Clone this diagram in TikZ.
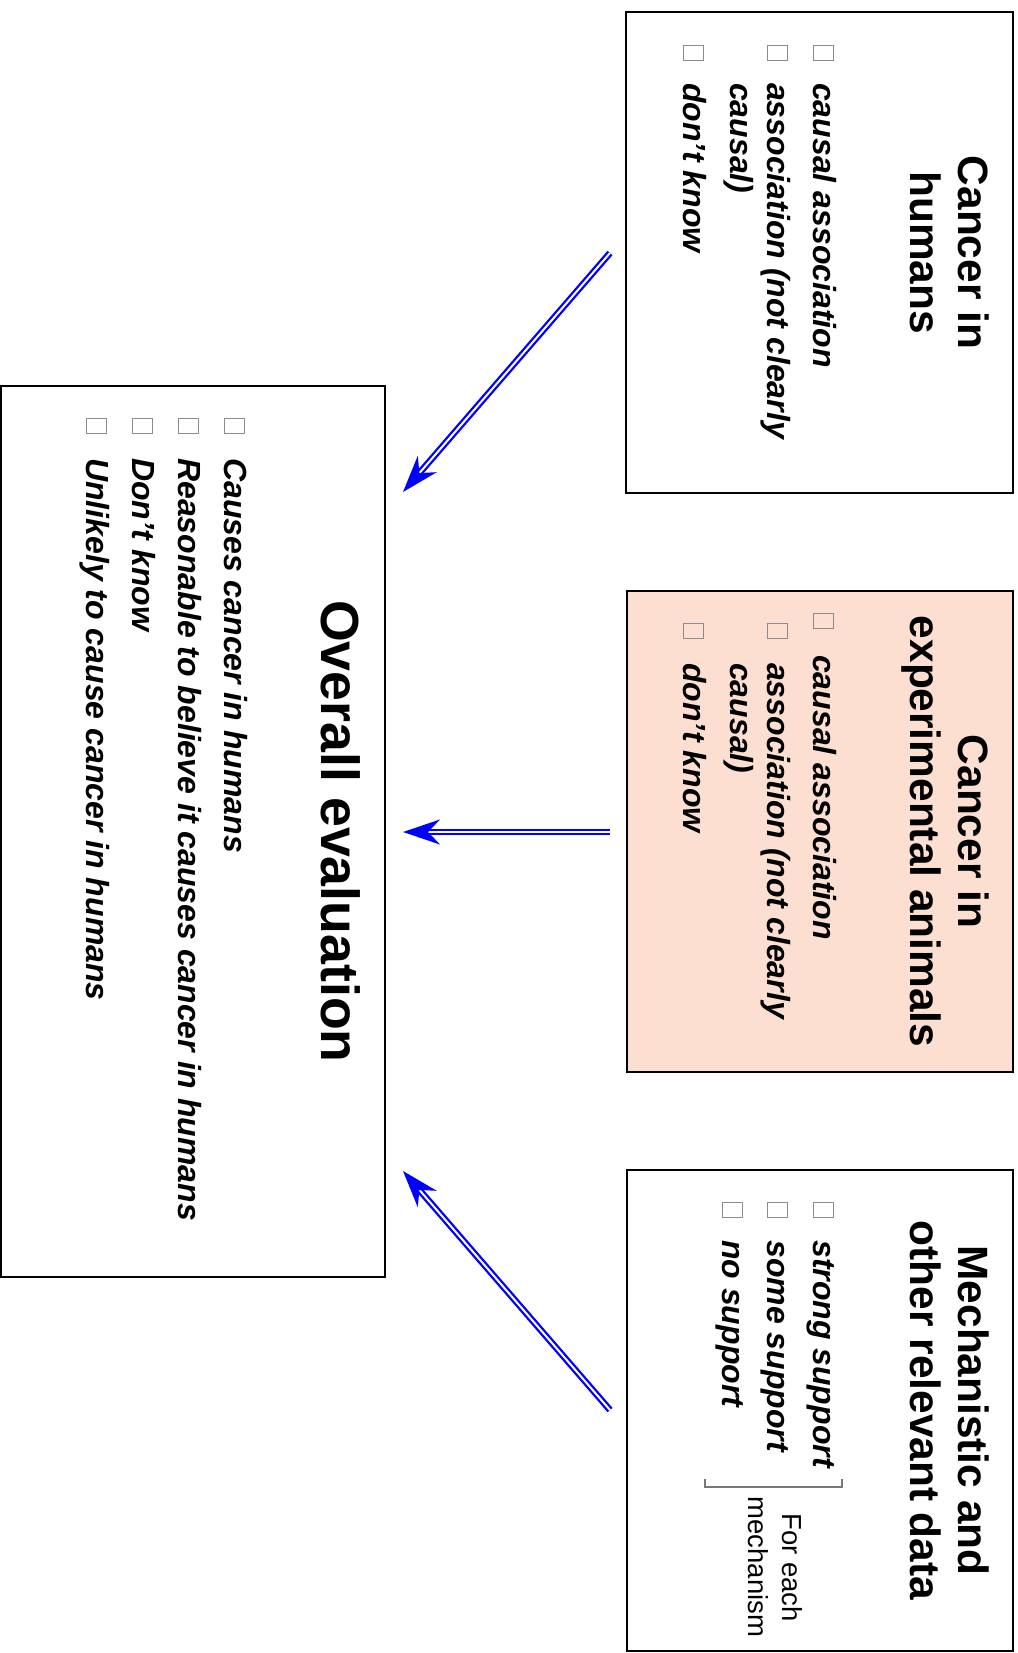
\documentclass[tikz,border=0pt]{standalone}
\usepackage{fontspec}
\setmainfont{Liberation Sans}
\usetikzlibrary{arrows.meta}
\definecolor{peach}{RGB}{252,223,208}
\definecolor{cbgray}{RGB}{140,140,140}
\definecolor{brgray}{RGB}{120,120,120}
\begin{document}
\begin{tikzpicture}[x=1pt,y=1pt,
  box/.style={draw=black, line width=2.4pt, inner sep=0pt, outer sep=0pt},
  ttl/.style={font=\fontsize{42.4}{48}\selectfont\bfseries, inner sep=0pt, anchor=base},
  bigttl/.style={font=\fontsize{53.7}{60}\selectfont\bfseries, inner sep=0pt, anchor=base},
  itm/.style={font=\fontsize{32}{37}\selectfont\bfseries\itshape, inner sep=0pt, anchor=base west},
  note/.style={font=\fontsize{27.5}{33}\selectfont, inner sep=0pt, anchor=base},
  cbox/.style={draw=cbgray, line width=1pt, minimum width=15pt, minimum height=20pt, inner sep=0pt, anchor=south west},
  conn/.style={draw=blue, line width=2.3pt, double=white, double distance=2pt,
    -{Stealth[length=37pt,width=25pt,inset=12pt]}},
  brk/.style={draw=brgray, line width=1.5pt}
]
\begin{scope}[rotate=-90, transform shape]
\useasboundingbox (0,0) rectangle (1653,1017);

% boxes
\node[box, minimum width=481pt, minimum height=387pt] (hum) at (252.5,819.5) {};
\node[box, fill=peach, minimum width=481pt, minimum height=386pt] (ani) at (831.5,820) {};
\node[box, minimum width=481pt, minimum height=386pt] (mec) at (1410.5,820) {};
\node[box, minimum width=891pt, minimum height=384pt] (ove) at (831.5,193) {};

% box 1
\node[ttl] (t1a) at (252.5,958) {Cancer in};
\node[ttl] (t1b) at (252.5,910) {humans};
\node[cbox] (c1a) at (45,813) {};
\node[itm] (i1a) at (83,813) {causal association};
\node[cbox] (c1b) at (45,767) {};
\node[itm] (i1b) at (83,767) {association (not clearly};
\node[itm] (i1c) at (83,730) {causal)};
\node[cbox] (c1c) at (45,683) {};
\node[itm] (i1d) at (83,683) {don’t know};

% box 2
\node[ttl] (t2a) at (831.5,958) {Cancer in};
\node[ttl] (t2b) at (831.5,910) {experimental animals};
\node[cbox] (c2a) at (613,813) {};
\node[itm] (i2a) at (655,813) {causal association};
\node[cbox] (c2b) at (623,767) {};
\node[itm] (i2b) at (663,767) {association (not clearly};
\node[itm] (i2c) at (663,730) {causal)};
\node[cbox] (c2c) at (623,683) {};
\node[itm] (i2d) at (663,683) {don’t know};

% box 3
\node[ttl] (t3a) at (1410.5,958) {Mechanistic and};
\node[ttl] (t3b) at (1410.5,910) {other relevant data};
\node[cbox] (c3a) at (1202,813) {};
\node[itm] (i3a) at (1240,813) {strong support};
\node[cbox] (c3b) at (1202,767) {};
\node[itm] (i3b) at (1240,767) {some support};
\node[cbox] (c3c) at (1202,722) {};
\node[itm] (i3c) at (1240,722) {no support};
\draw[brk] (1479,842) -- (1487,842) -- (1487,705) -- (1479,705);
\node[note] (n3a) at (1567.5,782) {For each};
\node[note] (n3b) at (1567,748) {mechanism};

% overall
\node[bigttl] (t4) at (831.5,321) {Overall evaluation};
\node[cbox] (c4a) at (418,224) {};
\node[itm] (i4a) at (458,224) {Causes cancer in humans};
\node[cbox] (c4b) at (418,178) {};
\node[itm] (i4b) at (458,178) {Reasonable to believe it causes cancer in humans};
\node[cbox] (c4c) at (418,132) {};
\node[itm] (i4c) at (458,132) {Don’t know};
\node[cbox] (c4d) at (418,86) {};
\node[itm] (i4d) at (458,86) {Unlikely to cause cancer in humans};

% connectors
\coordinate (a1s) at (253,610);
\coordinate (a1e) at (492,403);
\coordinate (a2s) at (832,610);
\coordinate (a2e) at (832,403);
\coordinate (a3s) at (1410,610);
\coordinate (a3e) at (1171,403);
\draw[conn] (a1s) -- (a1e);
\draw[conn] (a2s) -- (a2e);
\draw[conn] (a3s) -- (a3e);
\end{scope}
\end{tikzpicture}
\end{document}
